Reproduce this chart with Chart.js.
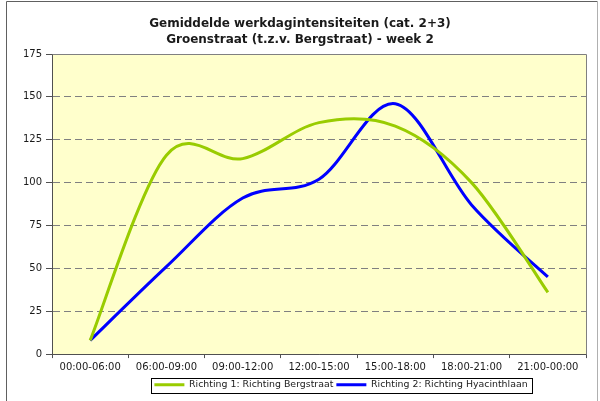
<!DOCTYPE html>
<html>
<head>
<meta charset="utf-8">
<script src="https://cdn.jsdelivr.net/npm/chart.js@4/dist/chart.umd.min.js"></script>
<style>
  html, body { margin: 0; padding: 0; background: #ffffff; }
  #wrap { position: relative; width: 600px; height: 401px; }
</style>
</head>
<body>
<div id="wrap"><canvas id="c" width="600" height="401"></canvas></div>
<script>
const titleLines = ["Gemiddelde werkdagintensiteiten (cat. 2+3)", "Groenstraat (t.z.v. Bergstraat) - week 2"];
const categories = ["00:00-06:00", "06:00-09:00", "09:00-12:00", "12:00-15:00", "15:00-18:00", "18:00-21:00", "21:00-00:00"];
const seriesNames = ["Richting 1: Richting Bergstraat", "Richting 2: Richting Hyacinthlaan"];
const richting1 = [8, 116, 114, 135, 133, 100, 36];
const richting2 = [8, 51, 91, 102, 146, 87, 45];
const yMin = 0, yMax = 175, yStep = 25;

// Excel-like smoothing: uniform Catmull-Rom control points computed from the
// pixel positions the library's scales gave each point.
const smoothing = {
  id: 'smoothing',
  beforeDatasetsDraw(chart) {
    chart.data.datasets.forEach((ds, di) => {
      const meta = chart.getDatasetMeta(di);
      const pts = meta.data;
      const n = pts.length;
      for (let i = 0; i < n; i++) {
        const p = pts[i];
        const prev = pts[Math.max(0, i - 1)];
        const next = pts[Math.min(n - 1, i + 1)];
        const tx = (next.x - prev.x) / 6;
        const ty = (next.y - prev.y) / 6;
        p.cp1x = p.x - tx; p.cp1y = p.y - ty;
        p.cp2x = p.x + tx; p.cp2y = p.y + ty;
      }
      if (meta.dataset) { meta.dataset._pointsUpdated = true; meta.dataset._path = undefined; }
    });
  }
};

const decor = {
  id: 'decor',
  beforeDraw(chart) {
    const ctx = chart.ctx, a = chart.chartArea;
    ctx.save();
    ctx.fillStyle = '#FFFFCC';
    ctx.fillRect(a.left, a.top, a.right - a.left, a.bottom - a.top);
    ctx.restore();
  },
  afterLayout(chart) {
    const lg = chart.legend;
    if (lg) { lg.left += 48; lg.right += 48; }
    const tt = chart.titleBlock;
    if (tt) { tt.left += 7; tt.right += 7; }
  },
  beforeDatasetsDraw(chart) {
    const ctx = chart.ctx, a = chart.chartArea;
    ctx.save();
    ctx.strokeStyle = '#808080';
    ctx.lineWidth = 1;
    ctx.beginPath();
    ctx.moveTo(Math.round(a.left) + 0.5, Math.round(a.top) + 0.5);
    ctx.lineTo(Math.round(a.right) + 0.5, Math.round(a.top) + 0.5);
    ctx.lineTo(Math.round(a.right) + 0.5, Math.round(a.bottom) + 0.5);
    ctx.stroke();
    ctx.restore();
  },
  afterDraw(chart) {
    const ctx = chart.ctx;
    ctx.save();
    ctx.lineWidth = 1;
    ctx.strokeStyle = '#606060';
    ctx.beginPath();
    ctx.moveTo(6.5, 410); ctx.lineTo(6.5, 1.5); ctx.lineTo(597.5, 1.5);
    ctx.stroke();
    ctx.strokeStyle = '#b0b0b0';
    ctx.beginPath();
    ctx.moveTo(597.5, 1.5); ctx.lineTo(597.5, 410);
    ctx.stroke();
    const hb = chart.legend && chart.legend.legendHitBoxes;
    if (hb && hb.length) {
      const first = hb[0], last = hb[hb.length - 1];
      const l = Math.round(first.left - 3) + 0.5;
      const r = Math.round(last.left + last.width + 4) + 0.5;
      const t = Math.round(first.top - 2) + 0.5;
      const b = Math.round(first.top + first.height + 3) + 0.5;
      ctx.strokeStyle = '#000000';
      ctx.strokeRect(l, t, r - l, b - t);
    }
    ctx.restore();
  }
};

new Chart(document.getElementById('c'), {
  type: 'line',
  data: {
    labels: categories,
    datasets: [
      { label: seriesNames[0], data: richting1, borderColor: '#99CC00', backgroundColor: '#99CC00',
        borderWidth: 3, pointRadius: 0, tension: 0.3, fill: false },
      { label: seriesNames[1], data: richting2, borderColor: '#0000FF', backgroundColor: '#0000FF',
        borderWidth: 3, pointRadius: 0, tension: 0.3, fill: false }
    ]
  },
  options: {
    responsive: false,
    animation: false,
    devicePixelRatio: 1,
    layout: { padding: { left: 0, right: 14, top: 0, bottom: 1.5 } },
    plugins: {
      title: {
        display: true,
        text: titleLines,
        color: '#1a1a1a',
        font: { family: 'DejaVu Sans', size: 12, weight: 'bold', lineHeight: '15.5px' },
        padding: { top: 16.25, bottom: 6.75 }
      },
      legend: {
        display: true,
        position: 'bottom',
        labels: {
          usePointStyle: true,
          pointStyle: 'line',
          pointStyleWidth: 30,
          boxHeight: 9.6,
          padding: 3,
          color: '#1a1a1a',
          font: { family: 'DejaVu Sans', size: 9.4 }
        }
      },
      tooltip: { enabled: false }
    },
    scales: {
      x: {
        offset: true,
        grid: { display: true, drawOnChartArea: false, offset: true, tickLength: 4, tickColor: '#505050' },
        border: { display: true, color: '#505050', width: 1 },
        ticks: { color: '#1a1a1a', padding: 3.5, maxRotation: 0, autoSkip: false,
                 font: { family: 'DejaVu Sans', size: 10 } }
      },
      y: {
        min: yMin, max: yMax,
        afterFit(scale) { scale.width = 52; },
        grid: { color: '#808080', lineWidth: 1, tickLength: 6, tickColor: '#505050', tickBorderDash: [] },
        border: { display: true, color: '#505050', width: 1, dash: [7, 4] },
        ticks: { stepSize: yStep, color: '#1a1a1a', padding: 4,
                 font: { family: 'DejaVu Sans', size: 10 } }
      }
    }
  },
  plugins: [smoothing, decor]
});
</script>
</body>
</html>
